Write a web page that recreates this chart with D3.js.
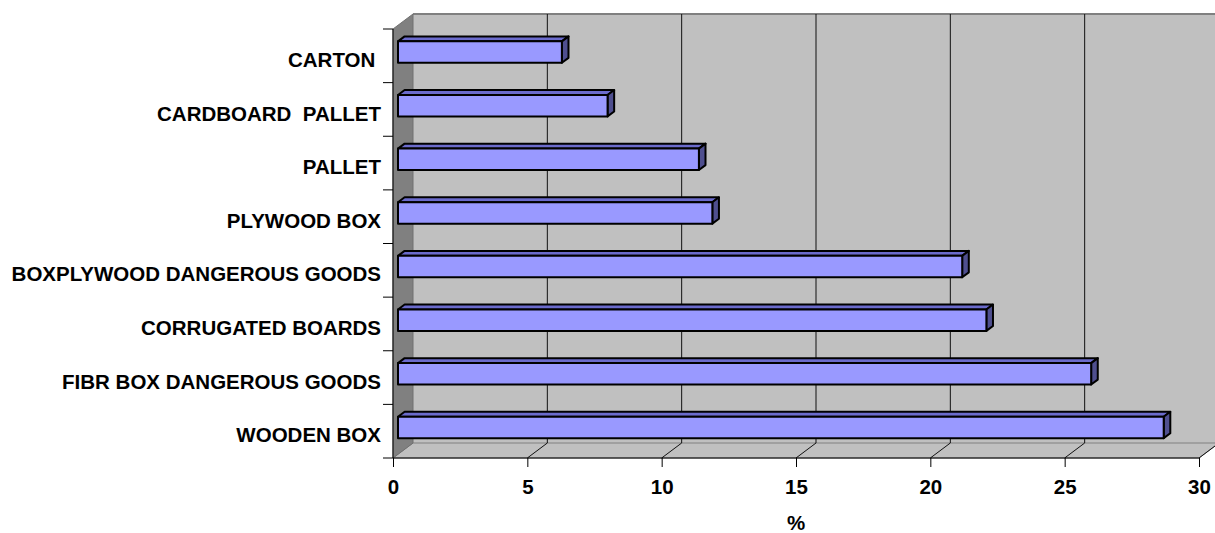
<!DOCTYPE html>
<html>
<head>
<meta charset="utf-8">
<script src="https://cdn.jsdelivr.net/npm/d3@7"></script>
<style>
  body { margin: 0; background: #fff; }
  text { font-family: Arial, "Liberation Sans", sans-serif; font-weight: bold; fill: #000; }
</style>
</head>
<body>
<div id="chart"></div>
<script>
// data
const categories = ["CARTON ", "CARDBOARD  PALLET", "PALLET", "PLYWOOD BOX",
  "BOXPLYWOOD DANGEROUS GOODS", "CORRUGATED BOARDS", "FIBR BOX DANGEROUS GOODS", "WOODEN BOX"];
const values = [6.1, 7.8, 11.2, 11.7, 21.0, 21.9, 25.8, 28.5];
const xTicks = [0, 5, 10, 15, 20, 25, 30];
const axisTitle = "%";

const width = 1215, height = 533;
const front = { left: 393, right: 1199, top: 29, bottom: 458 };
const depth = { dx: 20, dy: -15 };   // full depth offset of the back wall
const barZ0 = 0.25, barZ1 = 0.58;    // bar front / back position in depth

const svg = d3.select("#chart").append("svg")
  .attr("width", width).attr("height", height);

const x = d3.scaleLinear().domain([0, 30]).range([front.left, front.right]);
const y = d3.scaleBand().domain(categories).range([front.top, front.bottom])
  .paddingInner(0.6).paddingOuter(0.3);

// project a point (value, pixel y in front plane, depth 0..1)
const P = (v, py, z) => [x(v) + z * depth.dx, py + z * depth.dy];
const poly = pts => "M" + pts.map(p => p.join(",")).join("L") + "Z";

// back wall
svg.append("path")
  .attr("d", poly([P(0, front.top, 1), P(30, front.top, 1), P(30, front.bottom, 1), P(0, front.bottom, 1)]))
  .attr("fill", "#c0c0c0");
svg.append("line")
  .attr("x1", P(0, front.top, 1)[0]).attr("x2", width)
  .attr("y1", P(0, front.top, 1)[1]).attr("y2", P(0, front.top, 1)[1])
  .attr("stroke", "#808080").attr("stroke-width", 2);

// floor
svg.append("path")
  .attr("d", poly([P(0, front.bottom, 0), P(0, front.bottom, 1), P(30, front.bottom, 1), P(30, front.bottom, 0)]))
  .attr("fill", "#c0c0c0").attr("stroke", "#808080").attr("stroke-width", 1);

// left wall
svg.append("path")
  .attr("d", poly([P(0, front.top, 0), P(0, front.top, 1), P(0, front.bottom, 1), P(0, front.bottom, 0)]))
  .attr("fill", "#808080").attr("stroke", "#707070").attr("stroke-width", 1);

// gridlines on back wall and floor
const grid = svg.append("g").attr("stroke", "#111").attr("stroke-width", 1);
grid.selectAll("line.back").data(xTicks.slice(1, -1)).join("line")
  .attr("class", "back")
  .attr("x1", d => P(d, front.top, 1)[0]).attr("x2", d => P(d, front.bottom, 1)[0])
  .attr("y1", d => P(d, front.top, 1)[1]).attr("y2", d => P(d, front.bottom, 1)[1]);
grid.selectAll("line.floor").data(xTicks.slice(1)).join("line")
  .attr("class", "floor")
  .attr("x1", d => P(d, front.bottom, 0)[0]).attr("x2", d => P(d, front.bottom, 1)[0])
  .attr("y1", d => P(d, front.bottom, 0)[1]).attr("y2", d => P(d, front.bottom, 1)[1]);

// bars
const bars = svg.append("g").selectAll("g").data(categories.map((c, i) => ({ c, v: values[i] })))
  .join("g").attr("stroke", "#000").attr("stroke-width", 2).attr("stroke-linejoin", "round");
bars.append("path")  // top
  .attr("fill", "#6b6bcc")
  .attr("d", d => poly([P(0, y(d.c), barZ0), P(d.v, y(d.c), barZ0), P(d.v, y(d.c), barZ1), P(0, y(d.c), barZ1)]));
bars.append("path")  // end
  .attr("fill", "#4f4f8f")
  .attr("d", d => poly([P(d.v, y(d.c), barZ0), P(d.v, y(d.c), barZ1),
    P(d.v, y(d.c) + y.bandwidth(), barZ1), P(d.v, y(d.c) + y.bandwidth(), barZ0)]));
bars.append("path")  // front
  .attr("fill", "#9999ff")
  .attr("d", d => poly([P(0, y(d.c), barZ0), P(d.v, y(d.c), barZ0),
    P(d.v, y(d.c) + y.bandwidth(), barZ0), P(0, y(d.c) + y.bandwidth(), barZ0)]));

// axes
const xAxis = svg.append("g")
  .attr("transform", `translate(0,${front.bottom})`)
  .call(d3.axisBottom(x).tickValues(xTicks).tickSize(9).tickPadding(12).tickFormat(d3.format("d")));
xAxis.select(".domain").attr("d", `M${front.left},0H${front.right}`);
xAxis.selectAll("text").attr("font-size", 20.5).attr("font-family", null);

const yBounds = d3.range(categories.length + 1).map(i => front.top + i * (front.bottom - front.top) / categories.length);
svg.append("line")
  .attr("x1", front.left).attr("x2", front.left)
  .attr("y1", front.top).attr("y2", front.bottom)
  .attr("stroke", "#000");
svg.append("g").selectAll("line").data(yBounds).join("line")
  .attr("x1", front.left - 10).attr("x2", front.left)
  .attr("y1", d => d).attr("y2", d => d)
  .attr("stroke", "#000");
svg.append("g").selectAll("text").data(categories).join("text")
  .attr("x", 381)
  .attr("y", d => y(d) + y.bandwidth() / 2 + barZ0 * -depth.dy)
  .attr("dy", "0.36em")
  .attr("text-anchor", "end")
  .attr("font-size", 20.5)
  .style("white-space", "pre")
  .text(d => d);

svg.append("text")
  .attr("x", 796).attr("y", 530)
  .attr("text-anchor", "middle")
  .attr("font-size", 20.5)
  .text(axisTitle);
</script>
</body>
</html>
